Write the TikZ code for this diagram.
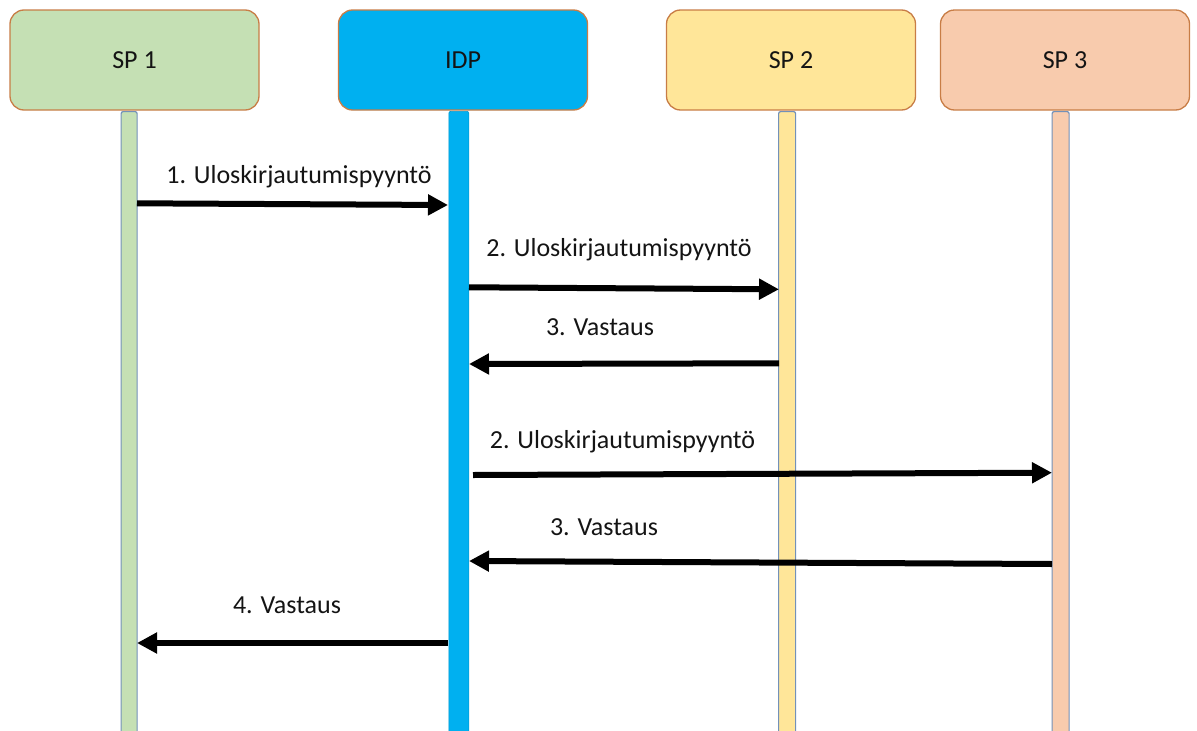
\documentclass[tikz,border=0pt]{standalone}
\usepackage{fontspec}
\setmainfont{Carlito}
\usetikzlibrary{arrows.meta}
\definecolor{spone}{HTML}{C5E0B4}
\definecolor{idpc}{HTML}{00B0F0}
\definecolor{sptwo}{HTML}{FFE699}
\definecolor{spthree}{HTML}{F8CBAD}
\definecolor{boxedge}{RGB}{200,125,70}
\definecolor{baredge}{RGB}{115,145,185}
\definecolor{txt}{RGB}{20,20,20}
\begin{document}
\begin{tikzpicture}[x=1pt,y=-1pt,
  hbox/.style={draw=boxedge, line width=1.3pt, rounded corners=14pt,
    minimum width=249pt, minimum height=100pt, inner sep=0pt,
    font=\fontsize{26}{30}\selectfont, text=txt},
  lbar/.style={draw=baredge, line width=1.2pt, rounded corners=2pt,
    inner sep=0pt, anchor=north west, minimum height=640pt},
  msg/.style={line width=6pt, -{Triangle[length=20pt,width=20pt]}},
  lbl/.style={anchor=base, font=\fontsize{26}{30}\selectfont, text=txt, inner sep=0pt}]
\useasboundingbox (0,0) rectangle (1197,731);

% header boxes
\node[hbox, fill=spone]   (sp1) at (134.5,60) {SP 1};
\node[hbox, fill=idpc]    (idp) at (463,60)   {IDP};
\node[hbox, fill=sptwo]   (sp2) at (791,60)   {SP 2};
\node[hbox, fill=spthree] (sp3) at (1065,60)  {SP 3};

% lifelines
\node[lbar, fill=spone,   minimum width=16pt] (b1) at (120.5,111) {};
\node[lbar, fill=idpc, draw=idpc!85!black, line width=0.6pt, minimum width=20pt] (b2) at (448.5,111) {};
\node[lbar, fill=sptwo,   minimum width=17pt] (b3) at (778,111) {};
\node[lbar, fill=spthree, minimum width=17pt] (b4) at (1051.5,111) {};

% message end points
\coordinate (m1s) at (137,203.3);  \coordinate (m1e) at (448,205);
\coordinate (m2s) at (469,287.3);  \coordinate (m2e) at (779,289.3);
\coordinate (m3s) at (779,363.3);  \coordinate (m3e) at (469,364);
\coordinate (m4s) at (473,475);    \coordinate (m4e) at (1052,472.7);
\coordinate (m5s) at (1052,564);   \coordinate (m5e) at (469,561);
\coordinate (m6s) at (448,643);    \coordinate (m6e) at (137,643);

\draw[msg] (m1s) -- (m1e);
\draw[msg] (m2s) -- (m2e);
\draw[msg] (m3s) -- (m3e);
\draw[msg] (m4s) -- (m4e);
\draw[msg] (m5s) -- (m5e);
\draw[msg] (m6s) -- (m6e);

% labels
\node[lbl] (l1) at (299,183)   {1. Uloskirjautumispyyntö};
\node[lbl] (l2) at (619,256.7) {2. Uloskirjautumispyyntö};
\node[lbl] (l3) at (600,335)   {3. Vastaus};
\node[lbl] (l4) at (622.5,448) {2. Uloskirjautumispyyntö};
\node[lbl] (l5) at (604,535)   {3. Vastaus};
\node[lbl] (l6) at (287,613)   {4. Vastaus};
\end{tikzpicture}
\end{document}
